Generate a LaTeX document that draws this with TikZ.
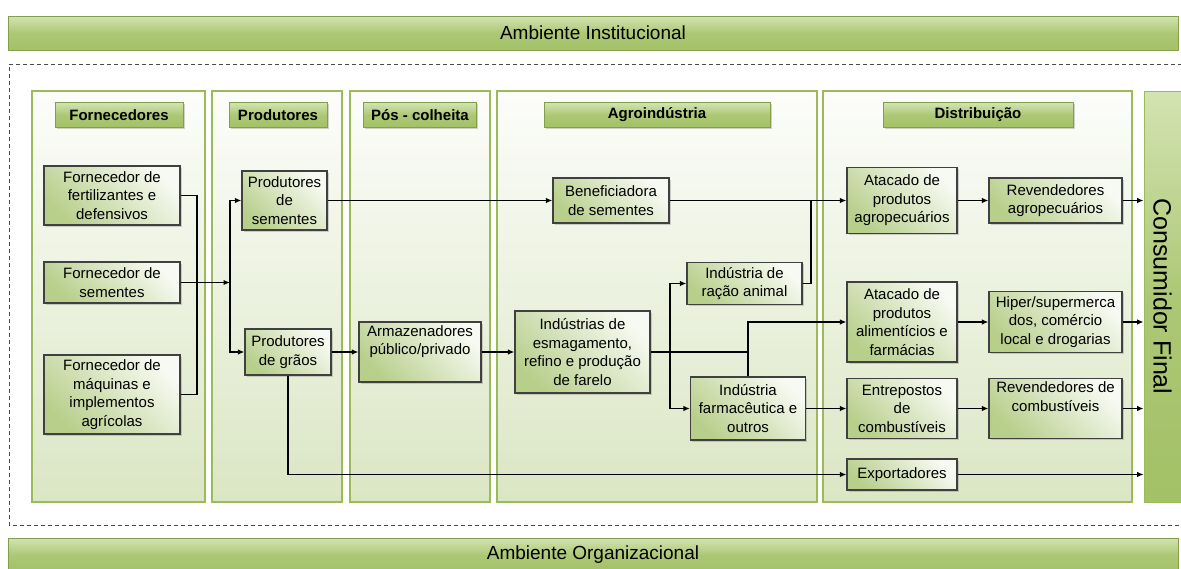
\documentclass[tikz,border=0pt]{standalone}
\usepackage{fontspec}
\setmainfont{Liberation Sans}
\usetikzlibrary{arrows.meta,shadows}
\definecolor{leafgreen}{HTML}{9BBB59}
\definecolor{barlight}{HTML}{D3E3B2}
\definecolor{bardark}{HTML}{A3C166}
\definecolor{panelgreen}{HTML}{DBE6C4}
\definecolor{boxgreen}{HTML}{B8CF8C}

\begin{document}
\begin{tikzpicture}[x=1pt,y=-1pt,
    bar/.style={draw=leafgreen!85!black,line width=0.8pt,top color=barlight,bottom color=bardark,middle color=bardark!80!barlight},
    header/.style={bar,font=\fontsize{15}{18}\selectfont\bfseries,minimum height=25,
        drop shadow={shadow xshift=1.5pt,shadow yshift=-1.5pt,opacity=0.35}},
    box/.style={draw=black!75,line width=1.2pt,top color=white!92!leafgreen,bottom color=boxgreen,shading angle=-45,
        align=center,inner sep=3pt,font=\fontsize{15}{18.5}\selectfont,
        drop shadow={shadow xshift=1.5pt,shadow yshift=-1.5pt,opacity=0.35}},
    panel/.style={draw=leafgreen,line width=1.1pt,top color=white!97!leafgreen,bottom color=panelgreen},
    line/.style={line width=1.8pt,black},
    arr/.style={line,-{Latex[length=6.5pt,width=5.5pt]}}]
        \useasboundingbox (0,0) rectangle (1181,568);
        % environment bars
        \node[bar,minimum width=1170,minimum height=34,font=\fontsize{19}{22}\selectfont] (inst) at (593,33) {Ambiente Institucional};
        \node[bar,minimum width=1170,minimum height=34,font=\fontsize{19}{22}\selectfont] (org) at (593,555) {Ambiente Organizacional};
        \draw[black!70,line width=0.8pt,dash pattern=on 4pt off 3pt] (1182,64) -- (9,64) -- (9,525) -- (1182,525);
        % panels
        \draw[panel] (32,91) rectangle (205,502);
        \draw[panel] (212,91) rectangle (342,502);
        \draw[panel] (350,91) rectangle (490,502);
        \draw[panel] (497,91) rectangle (817,502);
        \draw[panel] (823,91) rectangle (1132,502);
        \node[bar,draw=leafgreen,minimum width=37,minimum height=411,font=\fontsize{25}{28}\selectfont] (cons) at (1162.5,296.5) {\rotatebox{-90}{Consumidor Final}};
        % headers
        \node[header,minimum width=128] (hforn) at (119,115) {Fornecedores};
        \node[header,minimum width=98] (hprod) at (278,115) {Produtores};
        \node[header,minimum width=113] (hpos) at (420,115) {Pós - colheita};
        \node[header,minimum width=226] (hagro) at (657,115) {Agroindústria};
        \node[header,minimum width=190] (hdist) at (978,115) {Distribuição};
        % boxes
        \node[box,minimum width=136,minimum height=59] (fert) at (112,195.5) {Fornecedor de\\fertilizantes e\\defensivos};
        \node[box,minimum width=136,minimum height=41] (sem) at (112,282.5) {Fornecedor de\\sementes};
        \node[box,minimum width=136,minimum height=79] (maq) at (112,394.5) {Fornecedor de\\máquinas e\\implementos\\agrícolas};
        \node[box,minimum width=85,minimum height=59] (prodsem) at (284.5,200.5) {Produtores\\de\\sementes};
        \node[box,minimum width=86,minimum height=46] (prodgr) at (288,352) {Produtores\\de grãos};
        \node[box,minimum width=122,minimum height=60] (armaz) at (420,352) {Armazenadores\\público/privado\\\strut};
        \node[box,minimum width=116,minimum height=45] (benef) at (611,200.5) {Beneficiadora\\de sementes};
        \node[box,minimum width=115,minimum height=42] (racao) at (744.5,283.5) {Indústria de\\ração animal};
        \node[box,minimum width=135,minimum height=82] (esmag) at (582.5,352) {Indústrias de\\esmagamento,\\refino e produção\\de farelo};
        \node[box,minimum width=115,minimum height=63] (farm) at (748,408.5) {Indústria\\farmacêutica e\\outros};
        \node[box,minimum width=110,minimum height=66] (atagro) at (902,200.5) {Atacado de\\produtos\\agropecuários};
        \node[box,minimum width=133,minimum height=45] (revagro) at (1055.5,200.5) {Revendedores\\agropecuários};
        \node[box,minimum width=110,minimum height=80] (atalim) at (902,322) {Atacado de\\produtos\\alimentícios e\\farmácias};
        \node[box,minimum width=133,minimum height=61] (hiper) at (1055.5,322) {Hiper/supermerca\\dos, comércio\\local e drogarias};
        \node[box,minimum width=110,minimum height=60] (entrep) at (902,408.5) {Entrepostos\\de\\combustíveis};
        \node[box,minimum width=133,minimum height=59] (revcomb) at (1055.5,408.5) {Revendedores de\\combustíveis\\\strut};
        \node[box,minimum width=110,minimum height=31] (export) at (902,474.5) {Exportadores};
        % junctions
        \coordinate (fjoin) at (197,282.5);
        \coordinate (pbus) at (230,282.5);
        \coordinate (rjoin) at (811,200.5);
        \coordinate (ebranch) at (670,352);
        \coordinate (ejoin) at (748,352);
        % flows
        \draw[line] (fert.east) -| (fjoin) |- (maq.east);
        \draw[arr] (sem.east) -- (pbus);
        \draw[arr] (pbus) |- (prodsem.west);
        \draw[arr] (pbus) |- (prodgr.west);
        \draw[arr] (prodsem.east) -- (benef.west);
        \draw[arr] (benef.east) -- (atagro.west);
        \draw[line] (racao.east) -| (rjoin);
        \draw[arr] (prodgr.east) -- (armaz.west);
        \draw[arr] (prodgr.south) |- (export.west);
        \draw[arr] (armaz.east) -- (esmag.west);
        \draw[line] (esmag.east) -- (ejoin);
        \draw[arr] (ebranch) |- (racao.west);
        \draw[arr] (ebranch) |- (farm.west);
        \draw[arr] (farm.north) |- (atalim.west);
        \draw[arr] (farm.east) -- (entrep.west);
        \draw[arr] (atagro.east) -- (revagro.west);
        \draw[arr] (atalim.east) -- (hiper.west);
        \draw[arr] (entrep.east) -- (revcomb.west);
        % to consumer
        \draw[arr] (revagro.east) -- (revagro.east -| cons.west);
        \draw[arr] (hiper.east) -- (hiper.east -| cons.west);
        \draw[arr] (revcomb.east) -- (revcomb.east -| cons.west);
        \draw[arr] (export.east) -- (export.east -| cons.west);
    \end{tikzpicture}
\end{document}
